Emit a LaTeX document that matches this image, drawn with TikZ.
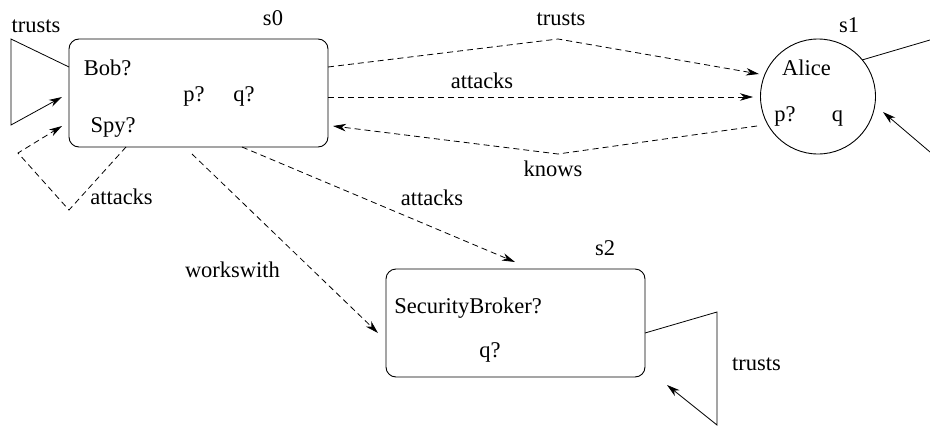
\documentclass[tikz,border=0pt]{standalone}
\usepackage{fontspec}
\setmainfont{Liberation Serif}[Scale=1.0]
\newfontfamily\figserif{Liberation Serif}
\usetikzlibrary{arrows.meta}
\begin{document}
\begin{tikzpicture}[x=1pt,y=-1pt,
  every node/.style={font=\rmfamily\figserif\fontsize{22.5}{27}\selectfont, inner sep=0pt},
  statebox/.style={draw, rounded corners=10pt, line width=0.9pt, minimum width=259pt, minimum height=108pt},
  statecirc/.style={draw, circle, line width=0.9pt, minimum size=115pt},
  lab/.style={anchor=base},
  dedge/.style={line width=0.8pt, dash pattern=on 6pt off 4pt},
  sedge/.style={line width=0.8pt},
  tip/.style={-{Stealth[length=13pt,width=7.5pt,inset=4pt]}}]
\useasboundingbox (0,0) rectangle (930,426);

% states
\node[statebox] (s0) at (198.5,93) {};
\node[statecirc] (s1) at (818,96.5) {};
\node[statebox] (s2) at (515.5,323) {};

% state names
\node[lab] (s0name) at (273,25) {s0};
\node[lab] (s1name) at (849,32) {s1};
\node[lab] (s2name) at (605,255) {s2};

% contents of s0
\node[lab] (bob) at (107.5,75) {Bob?};
\node[lab] (p0) at (194,101) {p?};
\node[lab] (q0) at (244,101) {q?};
\node[lab] (spy) at (113,132) {Spy?};

% contents of s1
\node[lab] (alice) at (806.5,75) {Alice};
\node[lab] (p1) at (785,121) {p?};
\node[lab] (q1) at (837.5,121) {q};

% contents of s2
\node[lab] (sb) at (468,313) {SecurityBroker?};
\node[lab] (q2) at (490,357) {q?};

% edge labels
\node[lab] (l0trust) at (36,32) {trusts};
\node[lab] (l0att) at (121.5,204) {attacks};
\node[lab] (l01trust) at (561,25) {trusts};
\node[lab] (l01att) at (482,88) {attacks};
\node[lab] (l10know) at (553,176) {knows};
\node[lab] (l02att) at (432,205) {attacks};
\node[lab] (l02work) at (232.5,277) {workswith};
\node[lab] (l2trust) at (756.5,370) {trusts};

% connector points
\coordinate (s0tl) at (69,67);
\coordinate (c0a) at (11,39);
\coordinate (c0b) at (11,125);
\coordinate (c0t) at (62,97);
\coordinate (s0bl) at (126,147);
\coordinate (c0c) at (69,210);
\coordinate (c0d) at (18,153);
\coordinate (c0u) at (62,126);

\coordinate (s0r1) at (328,67);
\coordinate (c01) at (558,39);
\coordinate (s1t1) at (759,74);
\coordinate (s0r2) at (328,97);
\coordinate (s1t2) at (753,97);
\coordinate (s1k) at (757,126);
\coordinate (c10) at (558,154);
\coordinate (s0t3) at (333,126);

\coordinate (s1o) at (862,60);
\coordinate (c1a) at (930,40);
\coordinate (c1b) at (930,152);
\coordinate (s1t) at (883,112);

\coordinate (s0b2) at (242,147);
\coordinate (s2t1) at (515,262);
\coordinate (s0b3) at (192,154);
\coordinate (s2t2) at (378,333);

\coordinate (s2o) at (645,333);
\coordinate (c2a) at (717,312);
\coordinate (c2b) at (717,425);
\coordinate (s2t) at (667,385);

% s0 self loops
\draw[sedge,tip] (s0tl) -- (c0a) -- (c0b) -- (c0t);
\draw[dedge,tip] (s0bl) -- (c0c) -- (c0d) -- (c0u);

% s0 <-> s1
\draw[dedge,tip] (s0r1) -- (c01) -- (s1t1);
\draw[dedge,tip] (s0r2) -- (s1t2);
\draw[dedge,tip] (s1k) -- (c10) -- (s0t3);

% s1 self loop (cropped at the right edge)
\draw[sedge] (s1o) -- (c1a);
\draw[sedge,tip] (c1b) -- (s1t);

% s0 -> s2
\draw[dedge,tip] (s0b2) -- (s2t1);
\draw[dedge,tip] (s0b3) -- (s2t2);

% s2 self loop
\draw[sedge,tip] (s2o) -- (c2a) -- (c2b) -- (s2t);
\end{tikzpicture}
\end{document}
